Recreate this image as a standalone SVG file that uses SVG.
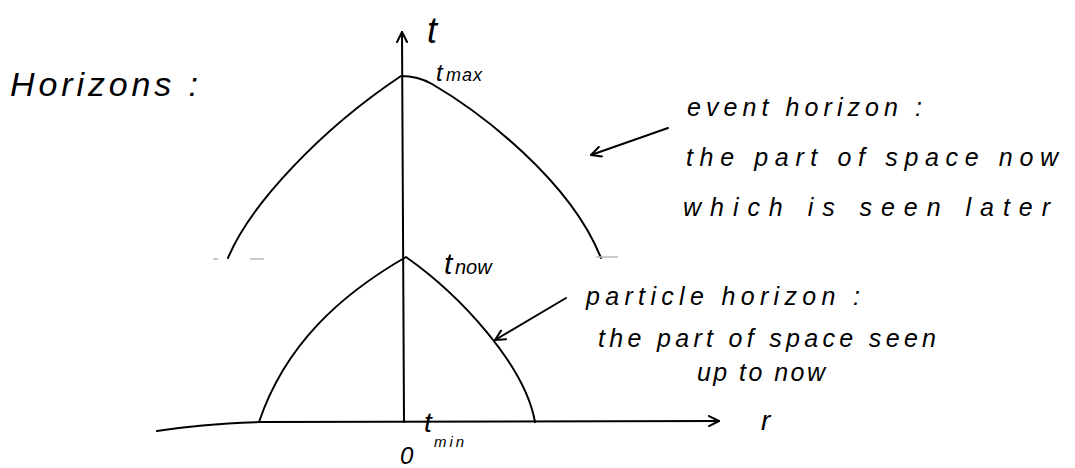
<svg xmlns="http://www.w3.org/2000/svg" width="1075" height="468" viewBox="0 0 1075 468">
<style>
.ln{fill:none;stroke:#000;stroke-width:2;stroke-linecap:round;stroke-linejoin:round}
.tx{font-family:"Liberation Sans","DejaVu Sans",sans-serif;font-style:italic;fill:#000}
.lbl{font-size:25px}
.faint{stroke:#bbb;stroke-width:1.5}
</style>
<defs>
<marker id="ah" viewBox="0 0 12 12" refX="11" refY="6" markerWidth="12" markerHeight="12" markerUnits="userSpaceOnUse" orient="auto">
<path d="M1,1 L11,6 L1,11" fill="none" stroke="#000" stroke-width="2" stroke-linecap="round" stroke-linejoin="round"/>
</marker>
</defs>
<rect width="1075" height="468" fill="#fff"/>
<g id="title"><text class="tx" x="10" y="96" font-size="34" textLength="188" lengthAdjust="spacing">Horizons :</text></g>
<g id="axes">
<path class="ln" d="M404,422 L402,32" marker-end="url(#ah)"/>
<path class="ln" d="M157,431 Q200,424 260,422 L719,421" marker-end="url(#ah)"/>
<text class="tx" x="427" y="43" font-size="36">t</text>
<text class="tx" x="761" y="430" font-size="28">r</text>
<text class="tx" x="400" y="464" font-size="24">0</text>
<text class="tx" x="424" y="432" font-size="28">t</text>
<text class="tx" x="434" y="447" font-size="15" textLength="30" lengthAdjust="spacing">min</text>
</g>
<g id="event-horizon-curve">
<path class="ln" d="M228,258 C250,205 320,130 401,76 Q418,76 432,84 C480,112 570,180 601,258"/>
<text class="tx" x="436" y="81" font-size="24">t</text>
<text class="tx" x="446" y="81" font-size="18" textLength="36" lengthAdjust="spacing">max</text>
</g>
<g id="particle-horizon-curve">
<path class="ln" d="M259,422 C285,345 340,295 406,257 C460,295 525,365 535,422"/>
<text class="tx" x="444" y="274" font-size="30">t</text>
<text class="tx" x="455" y="274" font-size="20">now</text>
</g>
<g id="faint">
<path class="faint" d="M213,259 L218,259 M250,259 L264,259 M596,257 L618,257"/>
</g>
<g id="connectors">
<path class="ln" d="M668,128 L591,155" marker-end="url(#ah)"/>
<path class="ln" d="M566,298 L495,340" marker-end="url(#ah)"/>
</g>
<g id="event-label">
<text class="tx lbl" x="687" y="116" textLength="235" lengthAdjust="spacing">event horizon :</text>
<text class="tx lbl" x="686" y="166" textLength="372" lengthAdjust="spacing">the part of space now</text>
<text class="tx lbl" x="683" y="216" textLength="367" lengthAdjust="spacing">which is seen later</text>
</g>
<g id="particle-label">
<text class="tx lbl" x="586" y="305" textLength="274" lengthAdjust="spacing">particle horizon :</text>
<text class="tx lbl" x="598" y="347" textLength="338" lengthAdjust="spacing">the part of space seen</text>
<text class="tx lbl" x="697" y="381" textLength="128" lengthAdjust="spacing">up to now</text>
</g>
</svg>
